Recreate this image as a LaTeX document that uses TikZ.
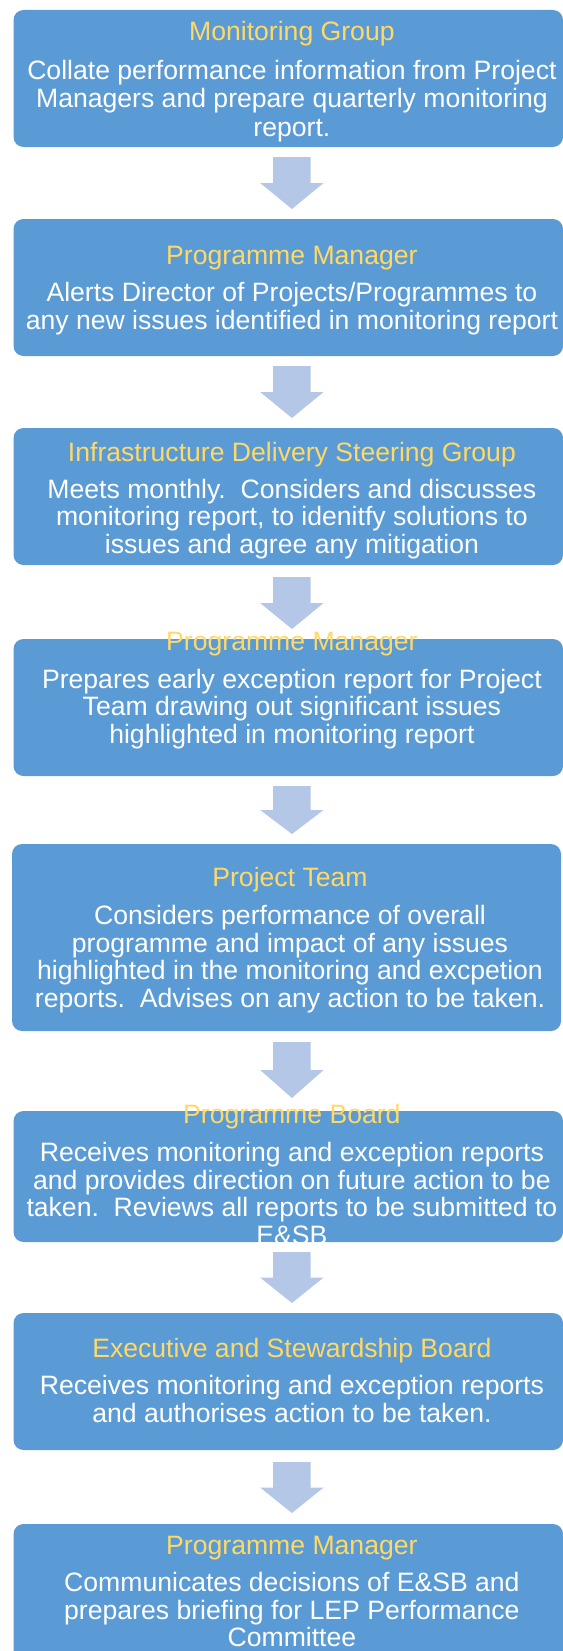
\documentclass[tikz,border=0pt]{standalone}
\usepackage{fontspec}
\setmainfont{Liberation Sans}
\usetikzlibrary{fit}
\definecolor{boxblue}{HTML}{5B9BD5}
\definecolor{arrowblue}{HTML}{B4C7E7}
\definecolor{titleyellow}{HTML}{FFD966}
\tikzset{
  box/.style={fill=boxblue, draw=none, rounded corners=10pt, inner sep=0pt, rectangle},
  ttl/.style={text=titleyellow, anchor=base, inner sep=0pt, font=\fontsize{26.6}{27.6}\selectfont},
  bdy/.style={text=white, anchor=base, inner sep=0pt, align=center, font=\fontsize{26.6}{27.6}\selectfont},
  blk/.style={fill=arrowblue, draw=none}
}
\newcommand{\blockarrow}[3]{% x-center, top, tip
  \fill[blk] (#1-18.8,#2) -- (#1+18.8,#2) -- (#1+18.8,{(#2+#3)/2}) -- (#1+31.7,{(#2+#3)/2})
    -- (#1,#3) -- (#1-31.7,{(#2+#3)/2}) -- (#1-18.8,{(#2+#3)/2}) -- cycle;}
\begin{document}
\begin{tikzpicture}[x=1pt,y=-1pt]
\useasboundingbox (0,0) rectangle (562,1651);
% boxes
\node[box, fit={(13.5,10) (563,147)}] (b1) {};
\node[box, fit={(13.5,219) (563,356)}] (b2) {};
\node[box, fit={(13.5,428) (563,565)}] (b3) {};
\node[box, fit={(13.5,639) (563,776)}] (b4) {};
\node[box, fit={(12,844) (561,1031)}] (b5) {};
\node[box, fit={(13.5,1111) (563,1242)}] (b6) {};
\node[box, fit={(13.5,1313) (563,1450)}] (b7) {};
\node[box, fit={(13.5,1524) (563,1670)}] (b8) {};
% arrows
\blockarrow{291.9}{157}{209}
\blockarrow{291.9}{366}{418}
\blockarrow{291.9}{577}{629}
\blockarrow{291.9}{786}{834}
\blockarrow{291.9}{1042}{1098}
\blockarrow{291.9}{1252}{1303}
\blockarrow{291.9}{1462}{1513}
% texts (body nodes anchored at the baseline of their last line)
\node[ttl] (t1) at (291.9,41) {Monitoring Group};
\node[bdy, font=\fontsize{26.6}{28.5}\selectfont] (d1) at (291.9,136.5) {Collate performance information from Project\\Managers and prepare quarterly monitoring\\report.};
\node[ttl] (t2) at (291.9,264) {Programme Manager};
\node[bdy] (d2) at (291.9,329) {Alerts Director of Projects/Programmes to\\any new issues identified in monitoring report};
\node[ttl] (t3) at (291.9,461.5) {Infrastructure Delivery Steering Group};
\node[bdy] (d3) at (291.9,553.3) {Meets monthly.\ \ Considers and discusses\\monitoring report, to idenitfy solutions to\\issues and agree any mitigation};
\node[ttl] (t4) at (291.9,650.7) {Programme Manager};
\node[bdy] (d4) at (291.9,743.3) {Prepares early exception report for Project\\Team drawing out significant issues\\highlighted in monitoring report};
\node[ttl] (t5) at (290,886.2) {Project Team};
\node[bdy] (d5) at (290,1007.5) {Considers performance of overall\\programme and impact of any issues\\highlighted in the monitoring and excpetion\\reports.\ \ Advises on any action to be taken.};
\node[ttl] (t6) at (291.9,1123.5) {Programme Board};
\node[bdy] (d6) at (291.9,1244.3) {Receives monitoring and exception reports\\and provides direction on future action to be\\taken.\ \ Reviews all reports to be submitted to\\E\&SB};
\node[ttl] (t7) at (291.9,1357.3) {Executive and Stewardship Board};
\node[bdy] (d7) at (291.9,1422.3) {Receives monitoring and exception reports\\and authorises action to be taken.};
\node[ttl] (t8) at (291.9,1554) {Programme Manager};
\node[bdy] (d8) at (291.9,1646.7) {Communicates decisions of E\&SB and\\prepares briefing for LEP Performance\\Committee};
\end{tikzpicture}
\end{document}
